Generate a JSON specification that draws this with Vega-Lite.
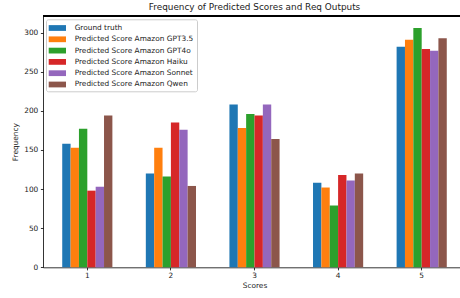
{
  "$schema": "https://vega.github.io/schema/vega-lite/v6.json",
  "autosize": {"type": "none"},
  "padding": {"left": 43, "top": 16, "right": 0, "bottom": 31},
  "width": 417,
  "height": 251.3,
  "background": "white",
  "config": {
    "font": "DejaVu Sans",
    "view": {"stroke": null},
    "legend": {"labelFont": "DejaVu Sans", "labelFontSize": 7.4},
    "axis": {"labelFont": "DejaVu Sans", "titleFont": "DejaVu Sans", "labelColor": "#222", "titleColor": "#222", "domainColor": "black", "tickColor": "black", "domainWidth": 0.8, "tickWidth": 0.8, "grid": false, "labelFontSize": 7.4, "titleFontSize": 7.4, "titleFontWeight": "normal", "tickSize": 2.6}
  },
  "title": {"text": "Frequency of Predicted Scores and Req Outputs", "font": "DejaVu Sans", "fontSize": 8.9, "fontWeight": "normal", "color": "#222", "offset": 4, "dx": 3},
  "data": {
    "values": [
      {"score": "1", "series": "Ground truth", "count": 158},
      {"score": "1", "series": "Predicted Score Amazon GPT3.5", "count": 153},
      {"score": "1", "series": "Predicted Score Amazon GPT4o", "count": 177},
      {"score": "1", "series": "Predicted Score Amazon Haiku", "count": 98},
      {"score": "1", "series": "Predicted Score Amazon Sonnet", "count": 103},
      {"score": "1", "series": "Predicted Score Amazon Qwen", "count": 194},
      {"score": "2", "series": "Ground truth", "count": 120},
      {"score": "2", "series": "Predicted Score Amazon GPT3.5", "count": 153},
      {"score": "2", "series": "Predicted Score Amazon GPT4o", "count": 116},
      {"score": "2", "series": "Predicted Score Amazon Haiku", "count": 185},
      {"score": "2", "series": "Predicted Score Amazon Sonnet", "count": 176},
      {"score": "2", "series": "Predicted Score Amazon Qwen", "count": 104},
      {"score": "3", "series": "Ground truth", "count": 208},
      {"score": "3", "series": "Predicted Score Amazon GPT3.5", "count": 178},
      {"score": "3", "series": "Predicted Score Amazon GPT4o", "count": 196},
      {"score": "3", "series": "Predicted Score Amazon Haiku", "count": 194},
      {"score": "3", "series": "Predicted Score Amazon Sonnet", "count": 208},
      {"score": "3", "series": "Predicted Score Amazon Qwen", "count": 164},
      {"score": "4", "series": "Ground truth", "count": 108},
      {"score": "4", "series": "Predicted Score Amazon GPT3.5", "count": 102},
      {"score": "4", "series": "Predicted Score Amazon GPT4o", "count": 79},
      {"score": "4", "series": "Predicted Score Amazon Haiku", "count": 118},
      {"score": "4", "series": "Predicted Score Amazon Sonnet", "count": 111},
      {"score": "4", "series": "Predicted Score Amazon Qwen", "count": 120},
      {"score": "5", "series": "Ground truth", "count": 282},
      {"score": "5", "series": "Predicted Score Amazon GPT3.5", "count": 291},
      {"score": "5", "series": "Predicted Score Amazon GPT4o", "count": 306},
      {"score": "5", "series": "Predicted Score Amazon Haiku", "count": 279},
      {"score": "5", "series": "Predicted Score Amazon Sonnet", "count": 277},
      {"score": "5", "series": "Predicted Score Amazon Qwen", "count": 293}
    ]
  },
  "layer": [
    {
      "mark": {"type": "bar"},
      "encoding": {
        "x": {
          "field": "score", "type": "nominal",
          "scale": {"paddingInner": 0.4, "paddingOuter": 0.23, "range": [0, 423]},
          "axis": {"title": "Scores", "labelAngle": 0, "labelPadding": 2, "titlePadding": 2}
        },
        "xOffset": {"field": "series", "type": "nominal", "sort": null},
        "y": {
          "field": "count", "type": "quantitative",
          "scale": {"domain": [0, 321.3], "nice": false, "zero": true},
          "axis": {"title": "Frequency", "values": [0, 50, 100, 150, 200, 250, 300], "labelPadding": 2.6, "titlePadding": 4}
        },
        "color": {
          "field": "series", "type": "nominal", "sort": null,
          "scale": {
            "domain": ["Ground truth", "Predicted Score Amazon GPT3.5", "Predicted Score Amazon GPT4o", "Predicted Score Amazon Haiku", "Predicted Score Amazon Sonnet", "Predicted Score Amazon Qwen"],
            "range": ["#1f77b4", "#ff7f0e", "#2ca02c", "#d62728", "#9467bd", "#8c564b"]
          },
          "legend": {
            "title": null, "orient": "none", "legendX": 3, "legendY": 3.3,
            "symbolType": "M-1.5,-0.5H1.5V0.5H-1.5Z", "symbolSize": 133, "symbolStrokeWidth": 0, "symbolOffset": 2.65,
            "labelFont": "DejaVu Sans", "labelFontSize": 7.4, "labelColor": "#222", "labelOffset": 11.3, "rowPadding": 1.3, "labelLimit": 300,
            "padding": 2.7, "strokeColor": "#cccccc", "fillColor": "rgba(255,255,255,0.8)", "cornerRadius": 2
          }
        }
      }
    },
    {
      "mark": {"type": "rule", "color": "black", "strokeWidth": 0.8},
      "encoding": {"y": {"datum": 321.3}}
    }
  ]
}
